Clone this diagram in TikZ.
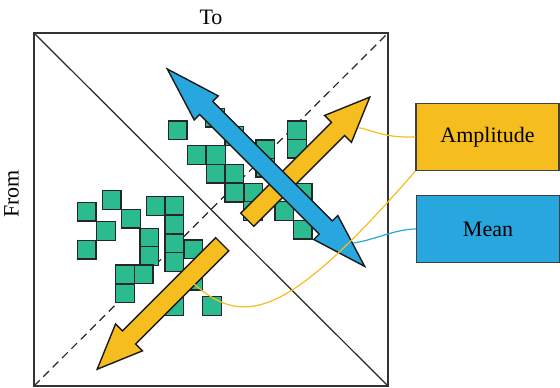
\documentclass[tikz,border=0pt]{standalone}
\usepackage{fontspec}
\setmainfont{Liberation Serif}
\definecolor{ampyellow}{HTML}{F6BD1E}
\definecolor{meanblue}{HTML}{28A7DF}
\definecolor{cellgreen}{HTML}{2BBB8F}
\tikzset{
    cell/.style={fill=cellgreen, draw=black!85, line width=0.7pt},
    bigarrow/.style={draw=black!90, line width=0.7pt, line join=miter},
    labelbox/.style={draw=black!75, line width=0.6pt, inner sep=0pt, minimum width=71.5pt, minimum height=33.5pt, font=\fontsize{11}{13}\selectfont},
    link/.style={line width=0.6pt}
}
\begin{document}
\begin{tikzpicture}[x=0.5pt,y=-0.5pt]
            % Define dimensions
            \def\cellsize{18.6}
            \def\shaft{9.3}
            \useasboundingbox (0,0) rectangle (560,387);
            % Corners of the matrix
            \coordinate (tl) at (34,33);
            \coordinate (tr) at (388,33);
            \coordinate (bl) at (34,386);
            \coordinate (br) at (388,386);
            % Diagonals and frame
            \draw[black!85, line width=0.6pt] (tl) -- (br);
            \draw[black!85, line width=0.6pt, dash pattern=on 4pt off 2.6pt] (bl) -- (tr);
            \draw[black!80, line width=1pt] (tl) rectangle (br);
            % Cells above the diagonal
            \foreach \x/\y in {168.3/121, 205.7/108.3, 225/126.7, 187.3/145.7, 206.7/145.7,
                    206.7/164.3, 225/164.3, 225/183.3, 244/183.3, 243.7/201.7, 256/140,
                    256/158.3, 287.7/121, 287.7/139.5, 293.3/183.3, 275/201.7, 293.3/220.5}
                \draw[cell] (\x,\y) rectangle ++(\cellsize,\cellsize);
            % Cells below the diagonal
            \foreach \x/\y in {77.3/202.3, 102.3/190.7, 96.7/221.7, 77.3/240.3, 121.7/209.3,
                    140/228.3, 140/246.7, 115.7/265, 134.3/265, 115.7/284, 146.7/196.7,
                    165/196.7, 165/215, 165/234, 165/252.7, 184/240, 184/271.4, 165/297, 202.7/296.7}
                \draw[cell] (\x,\y) rectangle ++(\cellsize,\cellsize);
            % Amplitude arrows
            \begin{scope}[shift={(222.2,244.2)}, rotate=-135]
                \draw[bigarrow, fill=ampyellow] (0,-\shaft) -- (131.8,-\shaft) -- (131.8,-19) -- (176.8,0)
                    -- (131.8,19) -- (131.8,\shaft) -- (0,\shaft) -- cycle;
            \end{scope}
            \begin{scope}[shift={(247.2,219.7)}, rotate=45]
                \draw[bigarrow, fill=ampyellow] (0,-\shaft) -- (128.4,-\shaft) -- (128.4,-19) -- (173.4,0)
                    -- (128.4,19) -- (128.4,\shaft) -- (0,\shaft) -- cycle;
            \end{scope}
            % Mean arrow
            \begin{scope}[shift={(167.3,69)}, rotate=-45]
                \draw[bigarrow, fill=meanblue] (0,0) -- (55,17) -- (55,\shaft) -- (224.1,\shaft) -- (224.1,17)
                    -- (279.1,0) -- (224.1,-17) -- (224.1,-\shaft) -- (55,-\shaft) -- (55,-17) -- cycle;
            \end{scope}
            % Axis labels
            \node[font=\fontsize{11}{13}\selectfont] (to) at (211,17) {To};
            \node[font=\fontsize{11}{13}\selectfont, rotate=90] (from) at (11.5,194) {From};
            % Legend boxes
            \node[labelbox, fill=ampyellow] (amp) at (487.5,137) {Amplitude};
            \node[labelbox, fill=meanblue] (mean) at (488,229) {Mean};
            % Links from the legend to the arrows
            \coordinate (amptip) at (358,127.5);
            \coordinate (amptail) at (193,283);
            \coordinate (meantip) at (353,243);
            \draw[link, ampyellow] (amp.west) .. controls (385,138) and (375,131) .. (amptip);
            \draw[link, ampyellow] (amp.south west) .. controls (290,315) and (245,330) .. (amptail);
            \draw[link, meanblue] (mean.west) .. controls (395,229) and (375,240) .. (meantip);
\end{tikzpicture}
\end{document}
